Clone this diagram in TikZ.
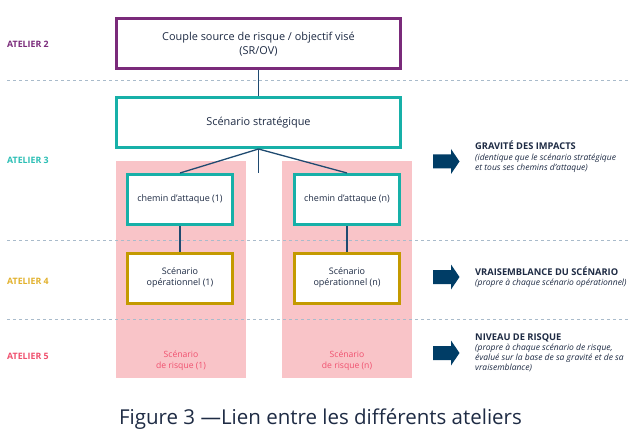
\documentclass[tikz,border=0pt]{standalone}
\usepackage{fontspec}
\setmainfont{Open Sans}
\definecolor{purp}{HTML}{7A2A7A}
\definecolor{tealb}{HTML}{17B0A8}
\definecolor{tealtxt}{HTML}{2BBFB5}
\definecolor{goldb}{HTML}{C49A00}
\definecolor{goldtxt}{HTML}{E2B12C}
\definecolor{pinkbg}{HTML}{F9C4C8}
\definecolor{pinktxt}{HTML}{F0506E}
\definecolor{navy}{HTML}{003D66}
\definecolor{linec}{HTML}{1F4A70}
\definecolor{dashc}{HTML}{A9BBCB}
\definecolor{txtc}{HTML}{1E2B44}
\begin{document}
\begin{tikzpicture}[x=1pt,y=-1pt,
  box/.style={draw,line width=3pt,fill=white,inner sep=0pt,align=center,text=txtc},
  bigbox/.style={box,minimum width=284pt,minimum height=50pt,font=\fontsize{10.9}{13.5}\selectfont},
  smallbox/.style={box,minimum width=105pt,minimum height=50pt,font=\fontsize{9}{11}\selectfont},
  pinkcol/.style={fill=pinkbg,draw=none,minimum width=130pt,minimum height=217pt,inner sep=0pt},
  sep/.style={draw=dashc,line width=1pt,dash pattern=on 3pt off 3pt},
  conn/.style={draw=linec,line width=1.3pt},
  atl/.style={anchor=base west,inner sep=0pt,font=\fontsize{8.8}{10}\selectfont\bfseries},
  blockarrow/.pic={\fill[navy] (-13,-7) -- (5,-7) -- (5,-12.5) -- (13.5,0) -- (5,12.5) -- (5,7) -- (-13,7) -- cycle;},
  rhead/.style={anchor=base west,inner sep=0pt,text=txtc,font=\fontsize{9.3}{10}\selectfont\bfseries},
  rtxt/.style={anchor=base west,inner sep=0pt,text=txtc,font=\fontsize{8.5}{10}\selectfont\itshape}
]
\useasboundingbox (0,0) rectangle (641,436);
\fill[white] (0,0) rectangle (641,436);

% pink columns
\node[pinkcol] (p1) at (181,269.5) {};
\node[pinkcol] (pn) at (347,269.5) {};

% separators
\coordinate (s1a) at (7,81); \coordinate (s1b) at (630,81);
\coordinate (s2a) at (7,240); \coordinate (s2b) at (630,240);
\coordinate (s3a) at (7,319); \coordinate (s3b) at (630,319);
\draw[sep] (s1a) -- (s1b);
\draw[sep] (s2a) -- (s2b);
\draw[sep] (s3a) -- (s3b);

% atelier labels
\node[atl,text=purp] (a2) at (7,47.5) {ATELIER 2};
\node[atl,text=tealtxt] (a3) at (7,163.3) {ATELIER 3};
\node[atl,text=goldtxt] (a4) at (7,284) {ATELIER 4};
\node[atl,text=pinktxt] (a5) at (7,359) {ATELIER 5};

% boxes
\node[bigbox,draw=purp] (srov) at (258.5,44) {Couple source de risque / objectif visé\\(SR/OV)};
\node[bigbox,draw=tealb] (strat) at (258.5,122.5) {Scénario stratégique};
\node[smallbox,draw=tealb] (ch1) at (180,199.5) {chemin d’attaque (1)};
\node[smallbox,draw=tealb] (chn) at (347,199.5) {chemin d’attaque (n)};
\node[smallbox,draw=goldb] (op1) at (180,278) {Scénario\\opérationnel (1)};
\node[smallbox,draw=goldb] (opn) at (347,278) {Scénario\\opérationnel (n)};

\node[text=pinktxt,align=center,font=\fontsize{8.6}{11}\selectfont] (r1) at (181,361) {Scénario\\de risque (1)};
\node[text=pinktxt,align=center,font=\fontsize{8.6}{11}\selectfont] (rn) at (347,361) {Scénario\\de risque (n)};

% connectors
\coordinate (stub) at (258.5,173);
\draw[conn] (srov.south) -- (strat.north);
\draw[conn] (strat.south) -- (ch1.north);
\draw[conn] (strat.south) -- (chn.north);
\draw[conn] (strat.south) -- (stub);
\draw[conn] (ch1.south) -- (op1.north);
\draw[conn] (chn.south) -- (opn.north);

% arrows
\pic (ar1) at (446,161.5) {blockarrow};
\pic (ar2) at (446,277) {blockarrow};
\pic (ar3) at (446,353) {blockarrow};

% right texts
\node[rhead] (h1) at (475,149.3) {GRAVITÉ DES IMPACTS};
\node[rtxt] (t1a) at (475,160.8) {(identique que le scénario stratégique};
\node[rtxt] (t1b) at (475,170.8) {et tous ses chemins d’attaque)};
\node[rhead] (h2) at (475,275.7) {VRAISEMBLANCE DU SCÉNARIO};
\node[rtxt] (t2a) at (475,285.5) {(propre à chaque scénario opérationnel)};
\node[rhead] (h3) at (475,340.3) {NIVEAU DE RISQUE};
\node[rtxt] (t3a) at (475,350.3) {(propre à chaque scénario de risque,};
\node[rtxt] (t3b) at (475,360.3) {évalué sur la base de sa gravité et de sa};
\node[rtxt] (t3c) at (475,370.3) {vraisemblance)};

% caption
\node[anchor=base,inner sep=0pt,text=txtc,font=\fontsize{20.5}{24}\selectfont] (cap) at (320.5,424.3) {Figure 3 —Lien entre les différents ateliers};
\end{tikzpicture}
\end{document}
